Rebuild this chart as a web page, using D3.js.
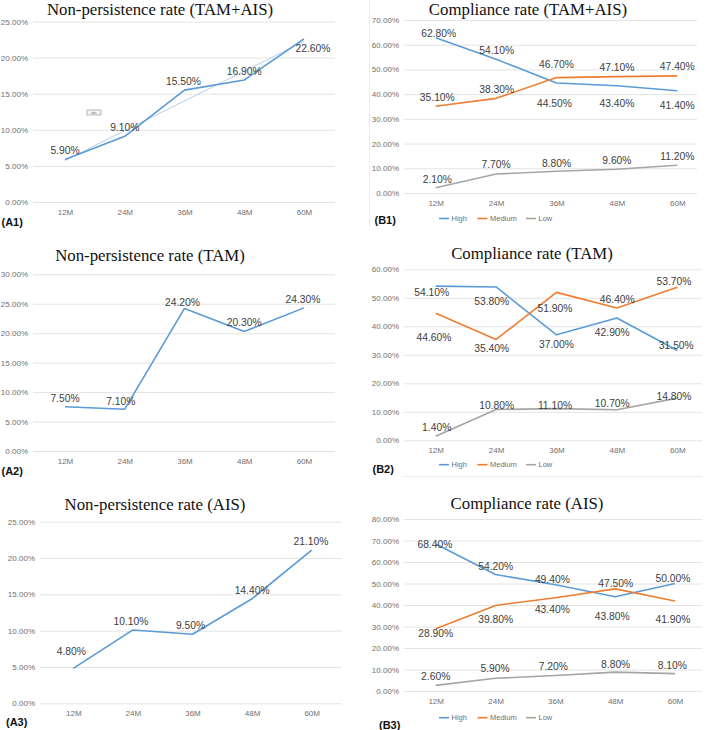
<!DOCTYPE html>
<html>
<head>
<meta charset="utf-8">
<script src="https://cdn.jsdelivr.net/npm/d3@7"></script>
<style>
  html, body { margin: 0; padding: 0; background: #ffffff; }
  svg { display: block; }
</style>
</head>
<body>
<script>
// ---------------- DATA ----------------
const categories = ["12M", "24M", "36M", "48M", "60M"];

const nonPersistAll = [5.9, 9.1, 15.5, 16.9, 22.6];
const nonPersistTAM = [7.5, 7.1, 24.2, 20.3, 24.3];
const nonPersistAIS = [4.8, 10.1, 9.5, 14.4, 21.1];

const complAllHigh = [62.8, 54.1, 44.5, 43.4, 41.4];
const complAllMedium = [35.1, 38.3, 46.7, 47.1, 47.4];
const complAllLow = [2.1, 7.7, 8.8, 9.6, 11.2];

const complTAMHigh = [54.1, 53.8, 37.0, 42.9, 31.5];
const complTAMMedium = [44.6, 35.4, 51.9, 46.4, 53.7];
const complTAMLow = [1.4, 10.8, 11.1, 10.7, 14.8];

const complAISHigh = [68.4, 54.2, 49.4, 43.8, 50.0];
const complAISMedium = [28.9, 39.8, 43.4, 47.5, 41.9];
const complAISLow = [2.6, 5.9, 7.2, 8.8, 8.1];

const ticksA1 = [0, 5, 10, 15, 20, 25];
const ticksA2 = [0, 5, 10, 15, 20, 25, 30];
const ticksA3 = [0, 5, 10, 15, 20, 25];
const ticksB1 = [0, 10, 20, 30, 40, 50, 60, 70];
const ticksB2 = [0, 10, 20, 30, 40, 50, 60];
const ticksB3 = [0, 10, 20, 30, 40, 50, 60, 70, 80];

const seriesNames = ["High", "Medium", "Low"];
const titles = {
  A1: "Non-persistence rate (TAM+AIS)",
  A2: "Non-persistence rate (TAM)",
  A3: "Non-persistence rate (AIS)",
  B1: "Compliance rate (TAM+AIS)",
  B2: "Compliance rate (TAM)",
  B3: "Compliance rate (AIS)"
};

// ---------------- STYLE ----------------
const BLUE = "#5b9bd5", ORANGE = "#ed7d31", GRAY = "#a5a5a5";
const colors = { High: BLUE, Medium: ORANGE, Low: GRAY };
const SANS = "'Liberation Sans', Arial, Helvetica, sans-serif";
const SERIF = "'Liberation Serif', 'Times New Roman', serif";

const svg = d3.select("body").append("svg")
  .attr("width", 709).attr("height", 730);

function drawPanel(cfg) {
  const g = svg.append("g");
  const x = d3.scalePoint().domain(categories).range(cfg.xr).padding(0);
  const y = d3.scaleLinear().domain([0, d3.max(cfg.ticks)]).range(cfg.yr);

  // y axis + gridlines
  const ya = g.append("g")
    .attr("transform", `translate(${cfg.gx[0]},0)`)
    .call(d3.axisLeft(y).tickValues(cfg.ticks)
      .tickFormat(d => d.toFixed(2) + "%")
      .tickSize(-(cfg.gx[1] - cfg.gx[0]))
      .tickPadding(cfg.tickPad || 5));
  ya.select(".domain").remove();
  ya.attr("font-family", SANS).attr("font-size", 8);
  ya.selectAll(".tick line").attr("stroke", "#e4e4e4").attr("stroke-width", 1);
  ya.selectAll(".tick text").attr("fill", "#707070");

  // x axis
  const xa = g.append("g")
    .attr("transform", `translate(0,${cfg.yr[0]})`)
    .call(d3.axisBottom(x).tickSize(0).tickPadding(7));
  xa.select(".domain").remove();
  xa.attr("font-family", SANS).attr("font-size", 8);
  xa.selectAll(".tick text").attr("fill", "#707070");

  // optional linear trend line (least squares on the series)
  if (cfg.trend) {
    const vals = cfg.series[0].values;
    const n = vals.length;
    const xs = d3.range(1, n + 1);
    const mx = d3.mean(xs), my = d3.mean(vals);
    const slope = d3.sum(xs, (xi, i) => (xi - mx) * (vals[i] - my)) / d3.sum(xs, xi => (xi - mx) ** 2);
    const icpt = my - slope * mx;
    const tr = [icpt + slope * 1, icpt + slope * n];
    g.append("line")
      .attr("x1", x(categories[0])).attr("y1", y(tr[0]))
      .attr("x2", x(categories[n - 1])).attr("y2", y(tr[1]))
      .attr("stroke", "#b4d0ec").attr("stroke-width", 1);
  }

  const line = d3.line().x((d, i) => x(categories[i])).y(d => y(d));

  cfg.series.forEach(s => {
    g.append("path").datum(s.values)
      .attr("d", line)
      .attr("fill", "none")
      .attr("stroke", s.color)
      .attr("stroke-width", 1.6)
      .attr("stroke-linejoin", "round");
  });

  cfg.series.forEach(s => {
    g.append("g").selectAll("text").data(s.values).join("text")
      .attr("x", (d, i) => x(categories[i]) + s.shift[i][0])
      .attr("y", (d, i) => y(d) + s.shift[i][1])
      .attr("dy", "0.35em")
      .attr("text-anchor", "middle")
      .attr("font-family", SANS)
      .attr("font-size", 10.3)
      .attr("fill", "#404040")
      .text(d => d.toFixed(2) + "%");
  });

  // title
  g.append("text")
    .attr("x", cfg.title[0]).attr("y", cfg.title[1])
    .attr("text-anchor", "middle")
    .attr("font-family", SERIF)
    .attr("font-size", 16.8)
    .attr("fill", "#111")
    .text(cfg.titleText);

  // panel tag
  g.append("text")
    .attr("x", cfg.tag[0]).attr("y", cfg.tag[1])
    .attr("dy", "0.35em")
    .attr("font-family", SANS)
    .attr("font-weight", "bold")
    .attr("font-size", 11)
    .attr("fill", "#111")
    .text(cfg.tagText);

  // legend
  if (cfg.legendY) {
    const lx = [439, 477.5, 526];
    seriesNames.forEach((nm, i) => {
      g.append("line")
        .attr("x1", lx[i]).attr("x2", lx[i] + 10)
        .attr("y1", cfg.legendY).attr("y2", cfg.legendY)
        .attr("stroke", colors[nm]).attr("stroke-width", 1.6);
      g.append("text")
        .attr("x", lx[i] + 12.5).attr("y", cfg.legendY)
        .attr("dy", "0.35em")
        .attr("font-family", SANS).attr("font-size", 7.5)
        .attr("fill", "#707070")
        .text(nm);
    });
  }
  return { g, x, y };
}

// ---------------- PANELS ----------------
const A1 = drawPanel({
  xr: [65, 304], yr: [202, 21.5], gx: [33, 335], ticks: ticksA1,
  title: [160, 15], titleText: titles.A1, tag: [1.5, 222.5], tagText: "(A1)",
  trend: true,
  series: [{ values: nonPersistAll, color: BLUE,
    shift: [[0, -9], [0, -9], [-1, -9], [0, -9], [9, 10]] }]
});
// small "abc" text-box artifact
A1.g.append("rect").attr("x", 87).attr("y", 110).attr("width", 14).attr("height", 5)
  .attr("fill", "#f4f4f4").attr("stroke", "#9a9a9a").attr("stroke-width", 0.7);
A1.g.append("text").attr("x", 94).attr("y", 114).attr("text-anchor", "middle")
  .attr("font-family", SANS).attr("font-size", 3.5).attr("fill", "#777").text("abc");

drawPanel({
  xr: [65, 304], yr: [451, 274.3], gx: [33, 335], ticks: ticksA2,
  title: [150, 261], titleText: titles.A2, tag: [1.5, 471], tagText: "(A2)",
  series: [{ values: nonPersistTAM, color: BLUE,
    shift: [[0, -8.5], [-4, -8], [-2, -6], [0, -9], [-1, -8.5]] }]
});

drawPanel({
  xr: [73.3, 311.7], yr: [703.3, 521.7], gx: [40, 341.7], ticks: ticksA3,
  title: [155, 510], titleText: titles.A3, tag: [6, 722.5], tagText: "(A3)",
  series: [{ values: nonPersistAIS, color: BLUE,
    shift: [[-2, -17], [-2, -9], [-2, -9], [0, -8.6], [-0.7, -9]] }]
});

drawPanel({
  xr: [435.7, 677.3], yr: [193, 20], gx: [404, 697], ticks: ticksB1,
  title: [528, 15], titleText: titles.B1, tag: [374.5, 220], tagText: "(B1)",
  legendY: 218.5,
  series: [
    { values: complAllHigh, color: BLUE,
      shift: [[3, -4], [0.6, -8.7], [-2, 20], [0, 17.5], [0, 14.6]] },
    { values: complAllMedium, color: ORANGE,
      shift: [[1.6, -8.6], [0.6, -9], [0, -13.4], [0, -9], [0, -9]] },
    { values: complAllLow, color: GRAY,
      shift: [[1.6, -8.8], [0, -9.3], [0, -8.3], [0, -8.6], [0, -8.6]] }
  ]
});

drawPanel({
  xr: [435.7, 677.3], yr: [440.3, 269.3], gx: [404, 702], ticks: ticksB2,
  title: [532, 259.3], titleText: titles.B2, tag: [372.5, 469], tagText: "(B2)",
  legendY: 464.7,
  series: [
    { values: complTAMHigh, color: BLUE,
      shift: [[-4, 6.6], [-4.4, 14], [0, 9.5], [-4.6, 14], [-1, -4.8]] },
    { values: complTAMMedium, color: ORANGE,
      shift: [[-1.7, 24.5], [-4.4, 9], [-1.5, 16], [0.4, -8.8], [-3.3, -6.3]] },
    { values: complTAMLow, color: GRAY,
      shift: [[1, -8.6], [0.6, -3.8], [-1.5, -3], [-4.6, -6.5], [-3.3, -1.4]] }
  ]
});

drawPanel({
  xr: [435.7, 675], yr: [691, 519], gx: [404, 702], ticks: ticksB3,
  title: [527, 509], titleText: titles.B3, tag: [379, 725], tagText: "(B3)",
  legendY: 717.7,
  series: [
    { values: complAISHigh, color: BLUE,
      shift: [[-0.7, 0.4], [0.2, -8.5], [-3, -5.8], [-3, 19.2], [-2, -5.2]] },
    { values: complAISMedium, color: ORANGE,
      shift: [[0, 4.4], [0.2, 13.9], [-3, 11.6], [0.5, -5.6], [-2, 18.1]] },
    { values: complAISLow, color: GRAY,
      shift: [[0, -8.7], [-0.5, -10], [-2, -8.8], [0.5, -8.1], [-2.7, -8.6]] }
  ]
});

// faint chart-area borders visible in the reference
svg.append("line").attr("x1", 369.5).attr("x2", 369.5).attr("y1", 0).attr("y2", 227)
  .attr("stroke", "#ececec").attr("stroke-width", 1);
svg.append("line").attr("x1", 404).attr("x2", 702).attr("y1", 476.5).attr("y2", 476.5)
  .attr("stroke", "#ececec").attr("stroke-width", 1);
</script>
</body>
</html>
